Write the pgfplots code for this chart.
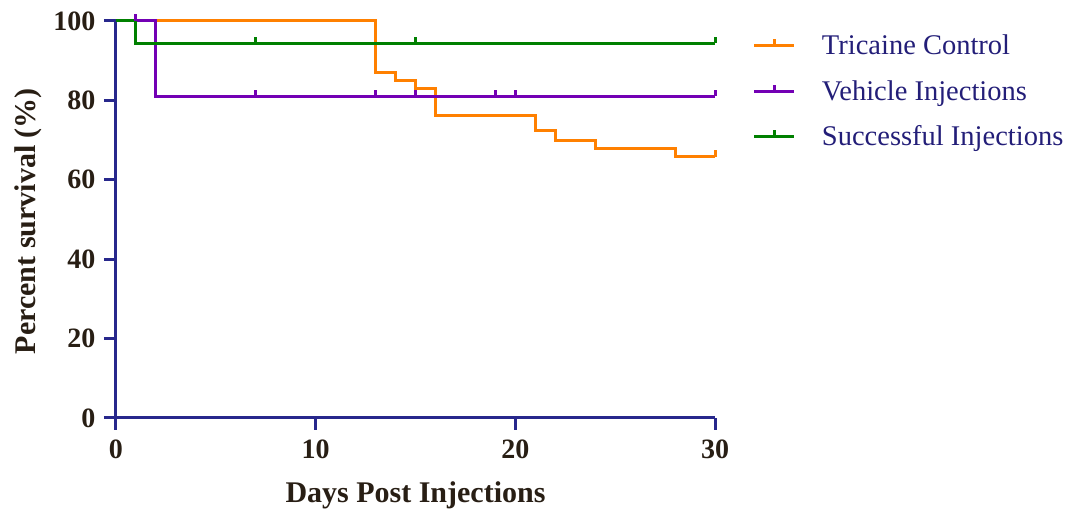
\documentclass[border=0pt]{standalone}
\usepackage{pgfplots}
\pgfplotsset{compat=1.18}
\usepackage{fontspec}
\setmainfont{Liberation Serif}
\definecolor{navy}{RGB}{40,40,140}
\definecolor{ltxt}{RGB}{35,30,120}
\definecolor{dtxt}{RGB}{40,30,20}
\definecolor{orng}{RGB}{255,128,0}
\definecolor{purp}{RGB}{115,0,180}
\definecolor{grn}{RGB}{0,128,0}
\pgfdeclareplotmark{censor}{\pgfpathmoveto{\pgfpoint{0pt}{0pt}}\pgfpathlineto{\pgfpoint{0pt}{6.5pt}}\pgfusepathqstroke}
\begin{document}
\begin{tikzpicture}[x=1pt,y=1pt]
\useasboundingbox (0,0) rectangle (1075,510);
\begin{axis}[
  at={(116pt,92pt)}, anchor=south west,
  scale only axis, width=599pt, height=397pt,
  xmin=0, xmax=30, ymin=0, ymax=100,
  axis lines=left, axis line style={navy, line width=3pt, -},
  xtick={0,10,20,30}, ytick={0,20,40,60,80,100},
  tick style={navy, line width=3pt},
  tick align=outside, major tick length=12pt,
  /pgf/number format/assume math mode=true,
  ticklabel style={font=\fontsize{28}{32}\selectfont\bfseries, text=dtxt},
  xticklabel style={yshift=-6pt},
  yticklabel style={xshift=-5pt},
  xlabel={Days Post Injections}, ylabel={Percent survival (\%)},
  label style={font=\fontsize{30}{34}\selectfont\bfseries, text=dtxt},
  xlabel style={at={(axis description cs:0.5,0)}, anchor=base, yshift=-85pt},
  ylabel style={at={(axis description cs:-0.147,0.496)}, anchor=center},
  clip=false,
  every axis plot/.append style={line width=3pt},
  legend style={draw=none, fill=none, at={(1.058,0.975)}, anchor=north west,
    font=\fontsize{28.5}{33}\selectfont, text=ltxt, row sep=20pt, column sep=24pt,
    legend cell align=left},
  legend image code/.code={\draw[#1,mark=none] (0pt,0pt) -- (40pt,0pt);
    \path[#1] plot[mark=censor] coordinates{(20pt,0pt)};},
]
\addplot[orng, const plot, mark=none] coordinates {(0,100) (13,87) (14,85) (15,83) (16,76.3) (21,72.3) (22,70) (24,68) (28,65.8) (30,65.8)};
\addlegendentry{Tricaine Control}
\addplot[purp, const plot, mark=none] coordinates {(0,100) (2,81) (30,81)};
\addlegendentry{Vehicle Injections}
\addplot[grn, const plot, mark=none] coordinates {(0,100) (1,94.4) (30,94.4)};
\addlegendentry{Successful Injections}
\addplot[orng, only marks, mark=censor, forget plot] coordinates {(30,65.8)};
\addplot[purp, only marks, mark=censor, forget plot] coordinates {(1,100) (2,81) (7,81) (13,81) (15,81) (19,81) (20,81) (30,81)};
\addplot[grn, only marks, mark=censor, forget plot] coordinates {(1,94.4) (7,94.4) (15,94.4) (30,94.4)};
\end{axis}
\end{tikzpicture}
\end{document}
